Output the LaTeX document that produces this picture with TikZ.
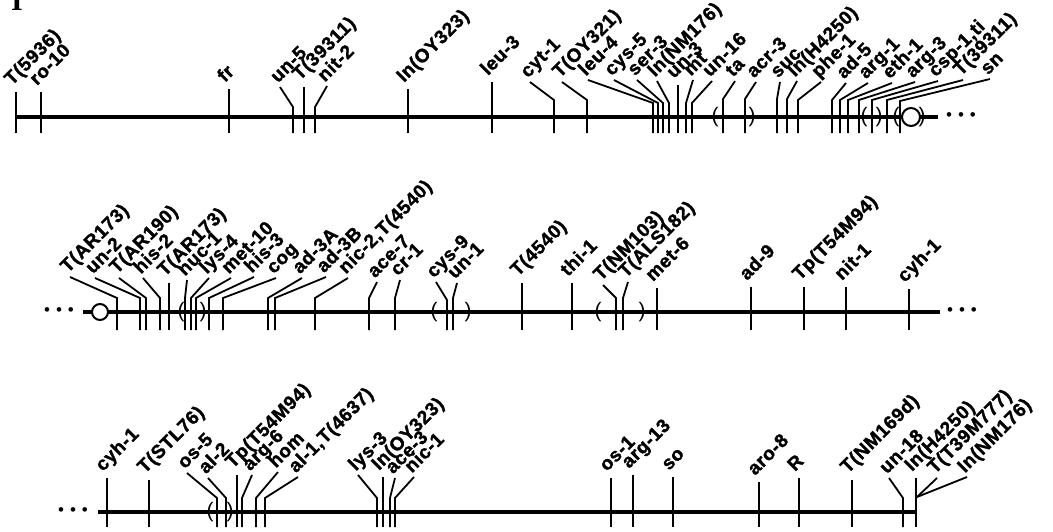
\documentclass[tikz,border=0pt]{standalone}
\usepackage{fontspec}
\setmainfont{Liberation Sans}
\newfontfamily\mapfont{Liberation Sans}[LetterSpace=3, BoldFeatures={FakeBold=1.5}]
\newfontfamily\grpfont{Liberation Serif}

\begin{document}
\begin{tikzpicture}[x=1pt, y=-1pt,
    chrom/.style={line width=4pt},
    locus/.style={line width=1.8pt},
    labtext/.style={rotate=45, anchor=south west, inner sep=0.5pt, text depth=0pt, font=\mapfont\bfseries\fontsize{19}{19}\selectfont},
    lab/.style={xshift=-2pt, yshift=1.5pt, labtext},
    labv/.style={xshift=-4pt, yshift=4pt, labtext},
    paren/.style={inner sep=0pt, font=\fontsize{21}{21}\selectfont},
    centro/.style={circle, draw, line width=2pt, fill=white, inner sep=0pt},
    more/.style={inner sep=0pt, font=\fontsize{17}{17}\selectfont}
]
\useasboundingbox (0,0) rectangle (1053,531);
\clip (0,0) rectangle (1053,531);

% Linkage group
\node[anchor=base, inner sep=0pt, font=\grpfont\bfseries\fontsize{30}{30}\selectfont] (grp) at (17,10) {I};

% Row 1
\coordinate (w1) at (16,117);
\coordinate (e1) at (938,117);
\draw[chrom] (w1) -- (e1);
\draw[locus] (16,133) -- (16,92) node[labv] (t5936) {T(5936)};
\draw[locus] (41,133) -- (41,92) node[labv] (ro10) {ro-10};
\draw[locus] (229,133) -- (229,89) node[labv] (fr) {fr};
\draw[locus] (293,133) -- (293,107) -- (280,87) node[lab] (un5) {un-5};
\draw[locus] (304,133) -- (304,87) node[labv] (t39311a) {T(39311)};
\draw[locus] (315,133) -- (315,107) -- (327,86) node[lab] (nit2) {nit-2};
\draw[locus] (408,133) -- (408,89) node[labv] (inoy323a) {In(OY323)};
\draw[locus] (492,133) -- (492,82) node[labv] (leu3) {leu-3};
\draw[locus] (554,133) -- (554,100) -- (530,82) node[lab] (cyt1) {cyt-1};
\draw[locus] (587,133) -- (587,100) -- (562,82) node[lab] (toy321) {T(OY321)};
\draw[locus] (653,133) -- (653,103) -- (588,80) node[lab] (leu4) {leu-4};
\draw[locus] (658,133) -- (658,103) -- (614,80) node[lab] (cys5) {cys-5};
\draw[locus] (663,133) -- (663,103) -- (637,80) node[lab] (ser3) {ser-3};
\draw[locus] (669,133) -- (669,103) -- (657,81) node[lab] (innm176a) {In(NM176)};
\draw[locus] (678,133) -- (678,85) node[labv] (un3) {un-3};
\draw[locus] (686,133) -- (686,103) -- (693,80) node[lab] (mt) {mt};
\draw[locus] (692,133) -- (692,103) -- (712,81) node[lab] (un16) {un-16};
\draw[locus] (723,133) -- (723,99) -- (735,81) node[lab] (ta) {ta};
\draw[locus] (745,133) -- (745,99) -- (756,82) node[lab] (acr3) {acr-3};
\draw[locus] (777,133) -- (777,99) -- (780,82) node[lab] (suc) {suc};
\draw[locus] (787,133) -- (787,99) -- (797,81) node[lab] (inh4250a) {In(H4250)};
\draw[locus] (798,133) -- (798,100) -- (821,82) node[lab] (phe1) {phe-1};
\draw[locus] (832,133) -- (832,100) -- (846,83) node[lab] (ad5) {ad-5};
\draw[locus] (840,133) -- (840,100) -- (868,83) node[lab] (arg1) {arg-1};
\draw[locus] (848,133) -- (848,100) -- (892,83) node[lab] (eth1) {eth-1};
\draw[locus] (859,133) -- (859,100) -- (915,82) node[lab] (arg3) {arg-3};
\draw[locus] (872,133) -- (872,100) -- (938,81) node[lab] (csp1) {csp-1,ti};
\draw[locus] (887,133) -- (887,100) -- (963,80) node[lab] (t39311b) {T(39311)};
\draw[locus] (900,133) -- (900,101) -- (990,79) node[lab] (sn) {sn};
\node[paren] (p1) at (715,117) {(};
\node[paren] (p2) at (752,117) {)};
\node[paren] (p3) at (864,117) {(};
\node[paren] (p4) at (879,117) {)};
\node[paren] (p5) at (896,117) {(};
\node[paren] (p6) at (922,117) {)};
\node[centro, minimum size=18pt] (cen1) at (911,117) {};
\node[more] (dots1) at (961,117) {\textbullet\hspace{6pt}\textbullet\hspace{6pt}\textbullet};

% Row 2
\node[more] (dots2) at (59,312) {\textbullet\hspace{6pt}\textbullet\hspace{6pt}\textbullet};
\coordinate (w2) at (83,312);
\coordinate (e2) at (940,312);
\draw[chrom] (w2) -- (e2);
\draw[locus] (117,330) -- (117,298) -- (70,277) node[lab] (tar173a) {T(AR173)};
\draw[locus] (140,330) -- (140,298) -- (95,278) node[lab] (un2) {un-2};
\draw[locus] (146,330) -- (146,298) -- (119,278) node[lab] (tar190) {T(AR190)};
\draw[locus] (160,330) -- (160,298) -- (143,278) node[lab] (his2) {his-2};
\draw[locus] (169,330) -- (169,283) node[labv] (tar173b) {T(AR173)};
\draw[locus] (185,330) -- (185,298) -- (187,280) node[lab] (nuc1) {nuc-1};
\draw[locus] (191,330) -- (191,298) -- (209,278) node[lab] (lys4) {lys-4};
\draw[locus] (196,330) -- (196,298) -- (231,278) node[lab] (met10) {met-10};
\draw[locus] (209,330) -- (209,298) -- (254,277) node[lab] (his3) {his-3};
\draw[locus] (223,330) -- (223,298) -- (276,278) node[lab] (cog) {cog};
\draw[locus] (268,330) -- (268,298) -- (302,278) node[lab] (ad3a) {ad-3A};
\draw[locus] (275,330) -- (275,298) -- (326,277) node[lab] (ad3b) {ad-3B};
\draw[locus] (315,330) -- (315,298) -- (348,278) node[lab] (nic2) {nic-2,T(4540)};
\draw[locus] (369,330) -- (369,298) -- (377,282) node[lab] (ace7) {ace-7};
\draw[locus] (395,330) -- (395,298) -- (400,280) node[lab] (cr1) {cr-1};
\draw[locus] (447,330) -- (447,300) -- (436,282) node[lab] (cys9) {cys-9};
\draw[locus] (453,330) -- (453,298) -- (457,283) node[lab] (un1) {un-1};
\draw[locus] (522,330) -- (522,283) node[labv] (t4540) {T(4540)};
\draw[locus] (572,330) -- (572,283) node[labv] (thi1) {thi-1};
\draw[locus] (616,330) -- (616,298) -- (603,285) node[lab] (tnm103) {T(NM103)};
\draw[locus] (623,330) -- (623,298) -- (628,282) node[lab] (tals182) {T(ALS182)};
\draw[locus] (657,330) -- (657,288) node[labv] (met6) {met-6};
\draw[locus] (751,330) -- (751,287) node[labv] (ad9) {ad-9};
\draw[locus] (804,330) -- (804,287) node[labv] (tpt54m94a) {Tp(T54M94)};
\draw[locus] (846,330) -- (846,287) node[labv] (nit1) {nit-1};
\draw[locus] (909,330) -- (909,289) node[labv] (cyh1a) {cyh-1};
\node[paren] (p7) at (181,312) {(};
\node[paren] (p8) at (203,312) {)};
\node[paren] (p9) at (434,312) {(};
\node[paren] (p10) at (468,312) {)};
\node[paren] (p11) at (598,312) {(};
\node[paren] (p12) at (642,312) {)};
\node[centro, minimum size=16pt] (cen2) at (100,312) {};
\node[more] (dots3) at (962,312) {\textbullet\hspace{6pt}\textbullet\hspace{6pt}\textbullet};

% Row 3
\node[more] (dots4) at (73,512) {\textbullet\hspace{6pt}\textbullet\hspace{6pt}\textbullet};
\coordinate (w3) at (98,512);
\coordinate (e3) at (916,512);
\draw[chrom] (w3) -- (e3);
\draw[locus] (107,527) -- (107,478) node[labv] (cyh1b) {cyh-1};
\draw[locus] (149,527) -- (149,480) node[labv] (tstl76) {T(STL76)};
\draw[locus] (217,527) -- (217,498) -- (187,473) node[lab] (os5) {os-5};
\draw[locus] (226,527) -- (226,498) -- (208,478) node[lab] (al2) {al-2};
\draw[locus] (237,527) -- (237,475) node[labv] (tpt54m94b) {Tp(T54M94)};
\draw[locus] (242,527) -- (242,498) -- (252,475) node[lab] (arg6) {arg-6};
\draw[locus] (256,527) -- (256,498) -- (278,472) node[lab] (hom) {hom};
\draw[locus] (265,527) -- (265,498) -- (298,477) node[lab] (al1) {al-1,T(4637)};
\draw[locus] (377,527) -- (377,498) -- (358,475) node[lab] (lys3) {lys-3};
\draw[locus] (383,527) -- (383,477) node[labv] (inoy323b) {In(OY323)};
\draw[locus] (390,527) -- (390,498) -- (395,478) node[lab] (ace3) {ace-3};
\draw[locus] (395,527) -- (395,498) -- (414,477) node[lab] (nic1) {nic-1};
\draw[locus] (611,527) -- (611,478) node[labv] (os1) {os-1};
\draw[locus] (633,527) -- (633,475) node[labv] (arg13) {arg-13};
\draw[locus] (673,527) -- (673,477) node[labv] (so) {so};
\draw[locus] (759,527) -- (759,482) node[labv] (aro8) {aro-8};
\draw[locus] (799,527) -- (799,478) node[labv] (r) {R};
\draw[locus] (852,527) -- (852,480) node[labv] (tnm169d) {T(NM169d)};
\draw[locus] (903,527) -- (903,498) -- (889,478) node[lab] (un18) {un-18};
\draw[locus] (916,527) -- (916,478) node[labv] (inh4250b) {In(H4250)};
\coordinate (tip) at (917,497);
\draw[locus] (tip) -- (937,478) node[lab] (tt39m777) {T(T39M777)};
\draw[locus] (tip) -- (967,477) node[lab] (innm176b) {In(NM176)};
\node[paren] (p13) at (210,512) {(};
\node[paren] (p14) at (230,512) {)};
\end{tikzpicture}
\end{document}
